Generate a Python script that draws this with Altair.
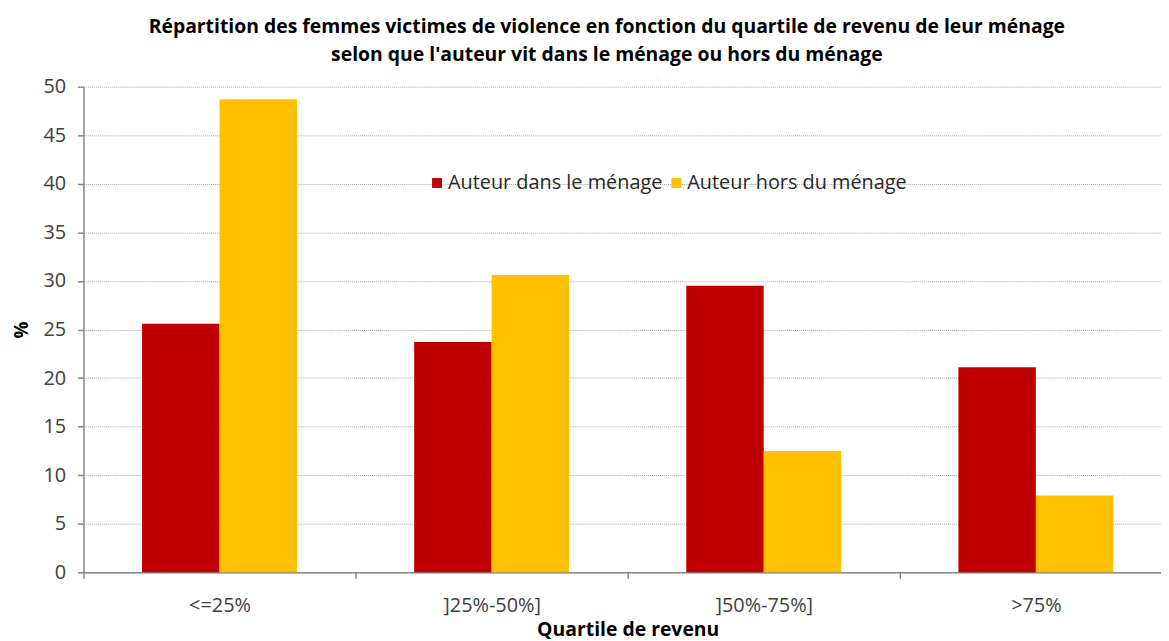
import altair as alt
import pandas as pd

categories = ["<=25%", "]25%-50%]", "]50%-75%]", ">75%"]
series = ["Auteur dans le ménage", "Auteur hors du ménage"]
dans = [25.6, 23.7, 29.5, 21.1]
hors = [48.7, 30.6, 12.5, 7.9]
colors = ["#C00000", "#FFC000"]
y_ticks = [0, 5, 10, 15, 20, 25, 30, 35, 40, 45, 50]

rows = []
for c, a, b in zip(categories, dans, hors):
    rows.append({"cat": c, "serie": series[0], "val": a})
    rows.append({"cat": c, "serie": series[1], "val": b})
df = pd.DataFrame(rows)

FONT = "Open Sans"

chart = alt.Chart(df).mark_bar().encode(
    x=alt.X("cat:N", sort=categories,
            scale=alt.Scale(paddingInner=0, paddingOuter=0),
            axis=alt.Axis(title="Quartile de revenu", labelAngle=0, tickBand="extent",
                          tickSize=6, labelPadding=17, titlePadding=6,
                          domainColor="#868686", tickColor="#868686", domainWidth=1.5,
                          tickWidth=1.5,
                          labelColor="#404040", labelFontSize=20, labelFont=FONT,
                          titleFont=FONT, titleFontSize=19.5, titleFontWeight="bold",
                          titleColor="#000000", grid=False)),
    xOffset=alt.XOffset("serie:N", sort=series,
                        scale=alt.Scale(paddingInner=0, paddingOuter=0.756)),
    y=alt.Y("val:Q", scale=alt.Scale(domain=[0, 50], nice=False),
            axis=alt.Axis(title="%", values=y_ticks, tickSize=6, labelPadding=12,
                          titlePadding=11, domainColor="#868686", tickColor="#868686",
                          domainWidth=1.5, tickWidth=1.5, labelColor="#404040",
                          labelFontSize=20,
                          labelFont=FONT, titleFont=FONT, titleFontSize=19,
                          titleFontWeight="bold", titleColor="#000000",
                          gridColor="#A6A6A6", gridDash=[1, 1], gridWidth=1)),
    color=alt.Color("serie:N", sort=series,
                    scale=alt.Scale(domain=series, range=colors),
                    legend=alt.Legend(title=None, orient="none", legendX=346, legendY=87,
                                      direction="horizontal", symbolType="square",
                                      symbolSize=100, symbolStrokeWidth=0,
                                      labelFont=FONT, labelFontSize=20, labelLimit=400,
                                      labelColor="#262626", labelOffset=1,
                                      columnPadding=4)),
).properties(
    width=1096,
    height=489,
    title=alt.TitleParams(
        text=["Répartition des femmes victimes de violence en fonction du quartile de revenu de leur ménage",
              "selon que l'auteur vit dans le ménage ou hors du ménage"],
        font=FONT, fontSize=19.5, fontWeight="bold", color="#000000",
        anchor="middle", dx=-21, offset=11, lineHeight=29),
    autosize=alt.AutoSizeParams(type="none"),
    padding={"left": 76, "top": 77, "right": -11, "bottom": 72},
).configure_view(stroke=None)

chart.save("out.html", embed_options={"renderer": "svg", "actions": False})
